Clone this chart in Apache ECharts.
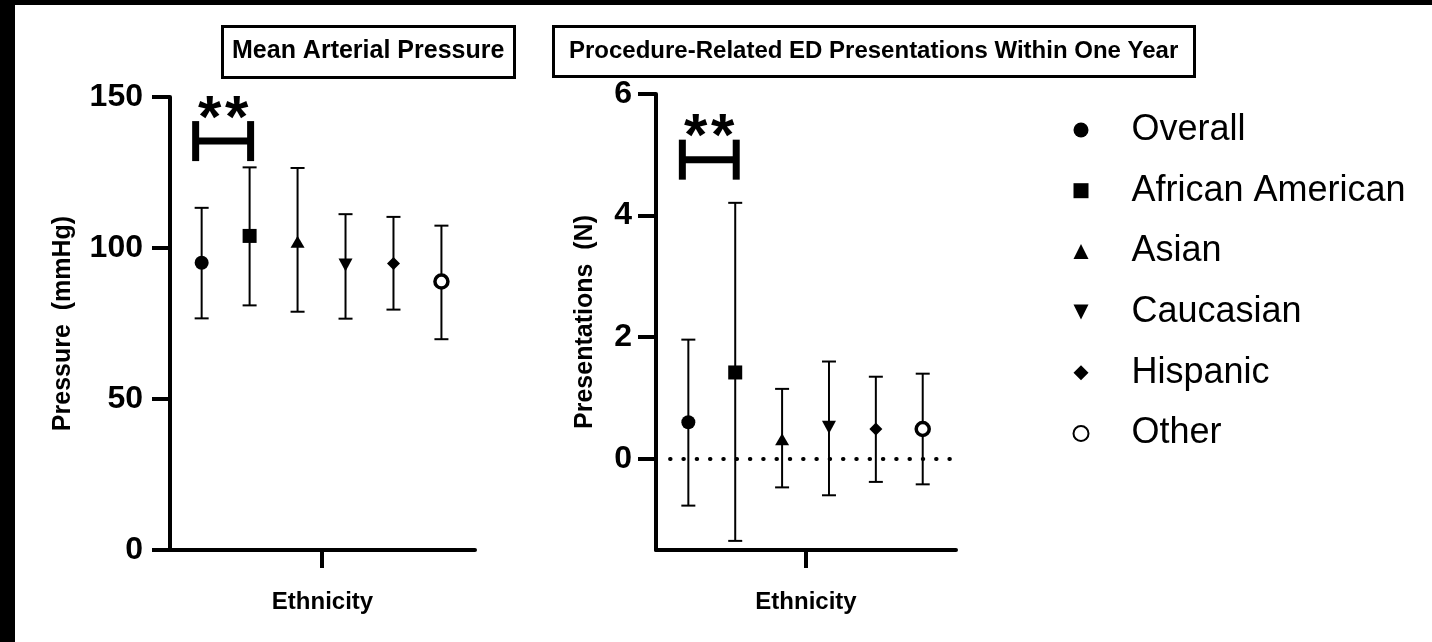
<!DOCTYPE html>
<html><head><meta charset="utf-8">
<script src="https://cdn.jsdelivr.net/npm/echarts@6/dist/echarts.min.js"></script>
<style>html,body{margin:0;padding:0;background:#fff}#c{width:1432px;height:642px}</style>
</head><body><div id="c"></div>
<script>
// ---- data ----
const categories = ['Overall', 'African American', 'Asian', 'Caucasian', 'Hispanic', 'Other'];
const mapMean  = [95.1, 104.0, 102.1, 94.4, 94.9, 88.9];
const mapUpper = [113.3, 126.7, 126.5, 111.2, 110.3, 107.4];
const mapLower = [76.7, 81.0, 78.9, 76.6, 79.6, 69.8];
const edMean   = [0.60, 1.42, 0.32, 0.52, 0.49, 0.49];
const edUpper  = [1.96, 4.21, 1.15, 1.60, 1.35, 1.40];
const edLower  = [-0.77, -1.35, -0.47, -0.60, -0.38, -0.42];
const mapTicks = [0, 50, 100, 150];
const edTicks  = [0, 2, 4, 6];
const sigPair  = [0, 1];
const sigLabel = '*';
const mapSigLevel = 135.4;
const edSigLevel  = 4.92;
const titles = ['Mean Arterial Pressure', 'Procedure-Related ED Presentations Within One Year'];
const yNames = ['Pressure  (mmHg)', 'Presentations  (N)'];
const xName = 'Ethnicity';

// ---- styles ----
const FONT = "'Liberation Sans', Arial, sans-serif";
const symbols = ['circle', 'rect', 'triangle', 'path://M0,0L10,0L5,10Z', 'diamond', 'circle'];
const symSizes = [14, 14, [14, 12], [14, 13], [13, 13], 13];

function errRender(params, api) {
  const x = api.value(0);
  const lo = api.coord([x, api.value(1)]);
  const hi = api.coord([x, api.value(2)]);
  const hw = 7;
  const st = {stroke: '#000', lineWidth: 2};
  return {type: 'group', children: [
    {type: 'line', shape: {x1: lo[0], y1: lo[1], x2: hi[0], y2: hi[1]}, style: st},
    {type: 'line', shape: {x1: lo[0] - hw, y1: lo[1], x2: lo[0] + hw, y2: lo[1]}, style: st},
    {type: 'line', shape: {x1: hi[0] - hw, y1: hi[1], x2: hi[0] + hw, y2: hi[1]}, style: st}
  ]};
}
function sigRender(params, api) {
  const a = api.coord([api.value(0), api.value(2)]);
  const b = api.coord([api.value(1), api.value(2)]);
  const x1 = a[0] - 6, x2 = b[0] + 1, y = a[1];
  const st = {stroke: '#000', lineWidth: 7};
  const mid = (x1 + x2) / 2;
  const ts = {text: sigLabel, fill: '#000', font: 'bold 60px ' + FONT, align: 'center', verticalAlign: 'middle'};
  return {type: 'group', children: [
    {type: 'line', shape: {x1: x1, y1: y - 20, x2: x1, y2: y + 20}, style: st},
    {type: 'line', shape: {x1: x2, y1: y - 20, x2: x2, y2: y + 20}, style: st},
    {type: 'line', shape: {x1: x1, y1: y, x2: x2, y2: y}, style: st},
    {type: 'text', x: mid - 13.5, y: y - 21, style: Object.assign({}, ts)},
    {type: 'text', x: mid + 13.5, y: y - 21, style: Object.assign({}, ts)}
  ]};
}

function yAxis(gi, min, max, ticks, name, gap, margin) {
  return {
    type: 'value', gridIndex: gi, min: min, max: max,
    name: name, nameLocation: 'middle', nameGap: gap, nameRotate: 90,
    nameTextStyle: {fontFamily: FONT, fontSize: 25, fontWeight: 'bold', color: '#000'},
    axisLine: {show: true, onZero: false, lineStyle: {color: '#000', width: 4}},
    axisTick: {show: true, length: 18, lineStyle: {color: '#000', width: 4}, customValues: ticks},
    axisLabel: {fontFamily: FONT, fontSize: 32, fontWeight: 'bold', color: '#000', margin: margin, customValues: ticks},
    splitLine: {show: false}
  };
}
function xAxis(gi, min, max) {
  return {
    type: 'value', gridIndex: gi, min: min, max: max,
    name: xName, nameLocation: 'middle', nameGap: 40,
    nameTextStyle: {fontFamily: FONT, fontSize: 24, fontWeight: 'bold', color: '#000'},
    axisLine: {show: true, onZero: false, lineStyle: {color: '#000', width: 4}},
    axisTick: {show: true, length: 18, lineStyle: {color: '#000', width: 4}, customValues: [2.5]},
    axisLabel: {show: false},
    splitLine: {show: false}
  };
}

const series = [];
[[mapMean, mapLower, mapUpper], [edMean, edLower, edUpper]].forEach(function (set, gi) {
  const mean = set[0], lower = set[1], upper = set[2];
  const errSeries = {
    type: 'custom', name: 'err' + gi, xAxisIndex: gi, yAxisIndex: gi, z: 1,
    renderItem: errRender, encode: {x: 0, y: [1, 2]},
    data: categories.map(function (c, i) { return [i, lower[i], upper[i]]; }),
    silent: true
  };
  if (gi === 1) {
    errSeries.markLine = {
      silent: true, symbol: ['none', 'none'], label: {show: false},
      lineStyle: {color: '#000', width: 4, type: [0.5, 12.8], cap: 'round'},
      data: [[{coord: [-0.39, 0]}, {coord: [5.71, 0]}]]
    };
  }
  series.push(errSeries);
  categories.forEach(function (c, i) {
    const open = i === 5;
    series.push({
      type: 'scatter', name: c, xAxisIndex: gi, yAxisIndex: gi, z: 3,
      symbol: symbols[i], symbolSize: symSizes[i],
      itemStyle: {color: open ? '#fff' : '#000', borderColor: '#000', borderWidth: open ? 3.5 : 0, opacity: 1},
      data: [[i, mean[i]]]
    });
  });
  series.push({
    type: 'custom', name: 'sig' + gi, xAxisIndex: gi, yAxisIndex: gi, z: 4,
    renderItem: sigRender, encode: {x: [0, 1], y: 2},
    data: [[sigPair[0], sigPair[1], gi === 0 ? mapSigLevel : edSigLevel]],
    silent: true
  });
});

const chart = echarts.init(document.getElementById('c'), null, {renderer: 'canvas'});
chart.setOption({
  animation: false,
  backgroundColor: '#fff',
  title: [
    {text: titles[0], left: 222, top: 26, borderColor: '#000', borderWidth: 3, padding: [13, 10, 14, 10],
     textStyle: {fontFamily: FONT, fontSize: 25, fontWeight: 'bold', color: '#000'}},
    {text: titles[1], left: 553, top: 26, borderColor: '#000', borderWidth: 3, padding: [13, 16, 14, 16],
     textStyle: {fontFamily: FONT, fontSize: 24, fontWeight: 'bold', color: '#000'}}
  ],
  legend: {
    orient: 'vertical', left: 1067.5, top: 107, itemGap: 24.7, itemWidth: 15, itemHeight: 15,
    data: categories,
    textStyle: {fontFamily: FONT, fontSize: 36, color: '#000', padding: [0, 0, 0, 38]},
    selectedMode: false
  },
  grid: [
    {left: 170, top: 97, width: 305, height: 453},
    {left: 656, top: 94, width: 300, height: 456}
  ],
  xAxis: [xAxis(0, -0.66, 5.7), xAxis(1, -0.69, 5.71)],
  yAxis: [
    yAxis(0, 0, 150, mapTicks, yNames[0], 94, 27),
    yAxis(1, -1.5, 6, edTicks, yNames[1], 58, 24)
  ],
  graphic: [
    {type: 'rect', shape: {x: 0, y: 0, width: 15, height: 642}, style: {fill: '#000'}, silent: true},
    {type: 'rect', shape: {x: 0, y: 0, width: 1432, height: 5}, style: {fill: '#000'}, silent: true}
  ],
  series: series
});
</script>
</body></html>
